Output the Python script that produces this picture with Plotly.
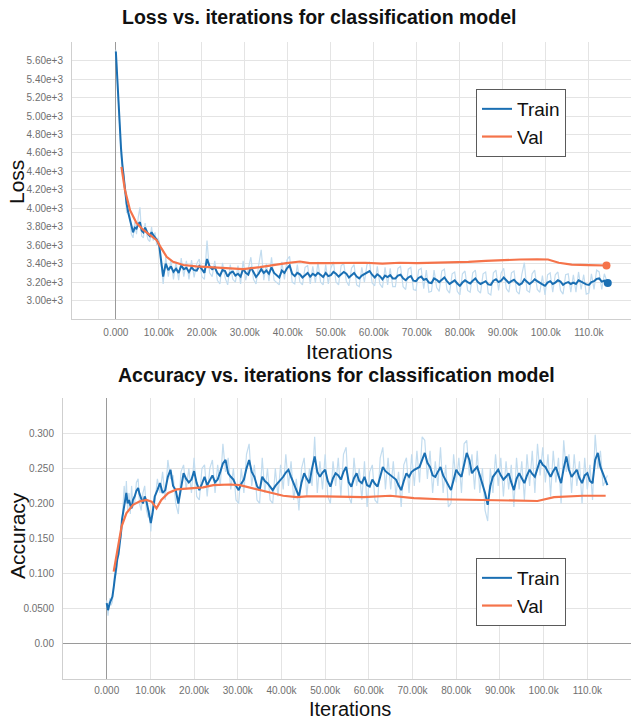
import plotly.graph_objects as go

# ---------------- data ----------------
x_tick_vals = [0, 10000, 20000, 30000, 40000, 50000, 60000, 70000, 80000, 90000, 100000, 110000]
x_tick_text = ["0.000", "10.00k", "20.00k", "30.00k", "40.00k", "50.00k", "60.00k",
               "70.00k", "80.00k", "90.00k", "100.0k", "110.0k"]

loss_tick_vals = [3000, 3200, 3400, 3600, 3800, 4000, 4200, 4400, 4600, 4800, 5000, 5200, 5400, 5600, 5800]
loss_tick_text = ["3.00e+3", "3.20e+3", "3.40e+3", "3.60e+3", "3.80e+3", "4.00e+3", "4.20e+3",
                  "4.40e+3", "4.60e+3", "4.80e+3", "5.00e+3", "5.20e+3", "5.40e+3", "5.60e+3", ""]

acc_tick_vals = [0.0, 0.05, 0.10, 0.15, 0.20, 0.25, 0.30, 0.35]
acc_tick_text = ["0.00", "0.0500", "0.100", "0.150", "0.200", "0.250", "0.300", ""]

loss_iters = [
    0, 300, 500, 700, 900, 1200, 1500, 1700, 1900, 2200,
    2500, 2900, 3300, 3600, 4000, 4400, 4800, 5200, 5600, 6000,
    6400, 6800, 7100, 7500, 7900, 8300, 8700, 9100, 9500, 9800,
    10100, 10400, 10700,
    11000, 11600, 12200, 12800, 13400, 14000, 14600, 15200, 15800, 16400,
    17000, 17600, 18200, 18800, 19400, 20000, 20600, 21200, 21800, 22400,
    23000, 23600, 24200, 24800, 25400, 26000, 26600, 27200, 27800, 28400,
    29000, 29600, 30200, 30800, 31400, 32000, 32600, 33200, 33800, 34400,
    35000, 35600, 36200, 36800, 37400, 38000, 38600, 39200, 39800, 40400,
    41000, 41600, 42200, 42800, 43400, 44000, 44600, 45200, 45800, 46400,
    47000, 47600, 48200, 48800, 49400, 50000, 50600, 51200, 51800, 52400,
    53000, 53600, 54200, 54800, 55400, 56000, 56600, 57200, 57800, 58400,
    59000, 59600, 60200, 60800, 61400, 62000, 62600, 63200, 63800, 64400,
    65000, 65600, 66200, 66800, 67400, 68000, 68600, 69200, 69800, 70400,
    71000, 71600, 72200, 72800, 73400, 74000, 74600, 75200, 75800, 76400,
    77000, 77600, 78200, 78800, 79400, 80000, 80600, 81200, 81800, 82400,
    83000, 83600, 84200, 84800, 85400, 86000, 86600, 87200, 87800, 88400,
    89000, 89600, 90200, 90800, 91400, 92000, 92600, 93200, 93800, 94400,
    95000, 95600, 96200, 96800, 97400, 98000, 98600, 99200, 99800, 100400,
    101000, 101600, 102200, 102800, 103400, 104000, 104600, 105200, 105800, 106400,
    107000, 107600, 108200, 108800, 109400, 110000, 110600, 111200, 111800, 112400,
    113000, 113600, 114400]

train_loss = [
    5700, 5450, 5200, 5000, 4850, 4650, 4480, 4380, 4300, 4150,
    4050, 3950, 3870, 3800, 3740, 3790, 3780, 3830, 3850, 3760,
    3740, 3790, 3760, 3720, 3700, 3740, 3710, 3690, 3660, 3630,
    3590, 3480, 3360,
    3260, 3400, 3330, 3370, 3310, 3345, 3300, 3380, 3340, 3355,
    3310, 3360, 3330, 3325, 3375, 3340, 3300, 3450, 3370, 3340,
    3360, 3300, 3270, 3330, 3320, 3260, 3300, 3315, 3270, 3290,
    3260, 3345, 3300, 3280, 3360, 3310, 3255, 3290, 3340, 3300,
    3325, 3290, 3360, 3300, 3270, 3250, 3325, 3300, 3350, 3380,
    3290, 3265, 3300, 3285, 3250, 3275, 3300, 3260, 3290, 3270,
    3300, 3280, 3255, 3300, 3265, 3275, 3310, 3290, 3260, 3285,
    3310, 3290, 3250, 3275, 3300, 3260, 3240, 3270, 3285, 3300,
    3320, 3280, 3250, 3285, 3265, 3230, 3270, 3255, 3275, 3240,
    3240, 3270, 3280, 3240, 3220, 3250, 3265, 3215, 3210, 3245,
    3260, 3225, 3235, 3195, 3190, 3240, 3225, 3200, 3230, 3250,
    3210, 3180, 3200, 3220, 3185, 3160, 3195, 3220, 3200, 3185,
    3215, 3240, 3200, 3180, 3195, 3210, 3175, 3170, 3215, 3230,
    3200, 3215, 3250, 3220, 3190, 3210, 3225, 3195, 3170, 3185,
    3230, 3205, 3180, 3200, 3230, 3210, 3190, 3175, 3160, 3195,
    3210, 3180, 3195, 3220, 3205, 3170, 3190, 3200, 3180, 3195,
    3180, 3220, 3205, 3190, 3175, 3170, 3200, 3210, 3235, 3240,
    3205, 3215, 3190]

train_loss_raw = [
    5720, 5420, 5150, 5050, 4900, 4600, 4400, 4420, 4350, 4080,
    3950, 4000, 3900, 3720, 3680, 3850, 3720, 3900, 4010, 3700,
    3680, 3840, 3730, 3660, 3640, 3800, 3650, 3740, 3600, 3680,
    3640, 3420, 3330,
    3180, 3470, 3260, 3440, 3230, 3420, 3220, 3460, 3260, 3430,
    3230, 3440, 3250, 3400, 3450, 3260, 3230, 3650, 3300, 3260,
    3430, 3220, 3180, 3410, 3250, 3170, 3390, 3230, 3200, 3380,
    3180, 3430, 3220, 3350, 3470, 3230, 3180, 3380, 3550, 3220,
    3400, 3210, 3470, 3220, 3190, 3170, 3420, 3230, 3440, 3480,
    3200, 3180, 3390, 3200, 3170, 3360, 3380, 3180, 3370, 3190,
    3420, 3200, 3170, 3390, 3180, 3350, 3420, 3200, 3170, 3380,
    3400, 3210, 3160, 3350, 3390, 3170, 3150, 3360, 3200, 3390,
    3420, 3190, 3160, 3370, 3180, 3140, 3360, 3170, 3350, 3150,
    3150, 3350, 3370, 3150, 3120, 3340, 3360, 3120, 3110, 3330,
    3350, 3130, 3330, 3090, 3100, 3330, 3140, 3100, 3320, 3340,
    3120, 3080, 3290, 3310, 3100, 3060, 3290, 3320, 3110, 3090,
    3300, 3330, 3110, 3080, 3290, 3310, 3080, 3060, 3300, 3330,
    3110, 3300, 3350, 3130, 3090, 3300, 3320, 3100, 3070, 3280,
    3410, 3110, 3090, 3290, 3330, 3120, 3090, 3270, 3060, 3280,
    3300, 3090, 3280, 3310, 3110, 3070, 3280, 3290, 3090, 3280,
    3090, 3310, 3120, 3280, 3070, 3080, 3290, 3120, 3330, 3310,
    3120, 3290, 3180]

val_loss_iters = [1300, 2100, 3300, 4800, 6400, 7900, 9500, 10600, 11800, 13300, 15700, 18700, 22600,
                  27300, 29600, 33500, 36600, 39700, 42800, 45100, 49000, 54400, 58000, 62000, 66000,
                  70000, 74000, 78000, 82000, 86000, 90000, 94000, 98000, 100500, 103000, 106000,
                  110000, 114100]
val_loss = [4450, 4200, 3980, 3840, 3765, 3710, 3655, 3565, 3475, 3420, 3385, 3370, 3358,
            3340, 3340, 3362, 3387, 3405, 3423, 3405, 3405, 3405, 3410, 3400, 3410,
            3405, 3410, 3410, 3420, 3430, 3440, 3445, 3448, 3445, 3410, 3390,
            3385, 3380]

acc_iters = [
    0, 300, 700, 1000, 1300, 1600, 1800, 2100, 2400, 2700,
    3000, 3300, 3500, 3800, 4000, 4300, 4500, 4800, 5100, 5400,
    5700, 6000, 6400, 6800, 7200, 7500, 7900, 8300, 8700, 9100,
    9500, 9800, 10100, 10500,
    11000, 11600, 12200, 12800, 13400, 14000, 14600, 15200, 15800, 16400,
    17000, 17600, 18200, 18800, 19400, 20000, 20600, 21200, 21800, 22400,
    23000, 23600, 24200, 24800, 25400, 26000, 26600, 27200, 27800, 28400,
    29000, 29600, 30200, 30800, 31400, 32000, 32600, 33200, 33800, 34400,
    35000, 35600, 36200, 36800, 37400, 38000, 38600, 39200, 39800, 40400,
    41000, 41600, 42200, 42800, 43400, 44000, 44600, 45200, 45800, 46400,
    47000, 47600, 48200, 48800, 49400, 50000, 50600, 51200, 51800, 52400,
    53000, 53600, 54200, 54800, 55400, 56000, 56600, 57200, 57800, 58400,
    59000, 59600, 60200, 60800, 61400, 62000, 62600, 63200, 63800, 64400,
    65000, 65600, 66200, 66800, 67400, 68000, 68600, 69200, 69800, 70400,
    71000, 71600, 72200, 72800, 73400, 74000, 74600, 75200, 75800, 76400,
    77000, 77600, 78200, 78800, 79400, 80000, 80600, 81200, 81800, 82400,
    83000, 83600, 84200, 84800, 85400, 86000, 86600, 87200, 87800, 88400,
    89000, 89600, 90200, 90800, 91400, 92000, 92600, 93200, 93800, 94400,
    95000, 95600, 96200, 96800, 97400, 98000, 98600, 99200, 99800, 100400,
    101000, 101600, 102200, 102800, 103400, 104000, 104600, 105200, 105800, 106400,
    107000, 107600, 108200, 108800, 109400, 110000, 110600, 111200, 111800, 112400,
    113000, 113600, 114600]

train_acc = [
    0.058, 0.048, 0.058, 0.062, 0.067, 0.080, 0.091, 0.105, 0.120, 0.128,
    0.143, 0.160, 0.177, 0.190, 0.200, 0.212, 0.215, 0.200, 0.205, 0.198,
    0.193, 0.205, 0.210, 0.218, 0.222, 0.214, 0.205, 0.200, 0.210, 0.203,
    0.191, 0.180, 0.172, 0.186,
    0.210, 0.219, 0.229, 0.215, 0.219, 0.238, 0.248, 0.225, 0.219, 0.200,
    0.224, 0.243, 0.235, 0.230, 0.234, 0.246, 0.229, 0.219, 0.228, 0.238,
    0.226, 0.232, 0.240, 0.230, 0.234, 0.245, 0.257, 0.262, 0.243, 0.238,
    0.234, 0.225, 0.219, 0.228, 0.234, 0.250, 0.262, 0.245, 0.238, 0.225,
    0.219, 0.238, 0.232, 0.229, 0.224, 0.219, 0.225, 0.229, 0.234, 0.238,
    0.244, 0.248, 0.238, 0.229, 0.218, 0.210, 0.230, 0.243, 0.235, 0.229,
    0.250, 0.267, 0.245, 0.238, 0.244, 0.248, 0.232, 0.224, 0.236, 0.243,
    0.240, 0.234, 0.245, 0.252, 0.230, 0.224, 0.236, 0.243, 0.232, 0.229,
    0.238, 0.226, 0.224, 0.234, 0.228, 0.224, 0.238, 0.252, 0.246, 0.243,
    0.240, 0.236, 0.234, 0.226, 0.219, 0.232, 0.243, 0.238, 0.245, 0.248,
    0.250, 0.252, 0.262, 0.272, 0.258, 0.252, 0.240, 0.238, 0.245, 0.252,
    0.240, 0.234, 0.226, 0.219, 0.235, 0.248, 0.242, 0.238, 0.255, 0.272,
    0.262, 0.243, 0.248, 0.252, 0.240, 0.229, 0.215, 0.198, 0.225, 0.238,
    0.244, 0.248, 0.240, 0.234, 0.238, 0.243, 0.230, 0.219, 0.235, 0.243,
    0.236, 0.229, 0.240, 0.248, 0.242, 0.238, 0.250, 0.262, 0.255, 0.252,
    0.245, 0.238, 0.246, 0.252, 0.240, 0.229, 0.250, 0.267, 0.248, 0.238,
    0.243, 0.248, 0.236, 0.229, 0.240, 0.243, 0.232, 0.229, 0.262, 0.272,
    0.252, 0.243, 0.226]

train_acc_raw = [
    0.062, 0.040, 0.065, 0.055, 0.060, 0.085, 0.100, 0.098, 0.110, 0.140,
    0.155, 0.150, 0.170, 0.205, 0.225, 0.200, 0.232, 0.190, 0.215, 0.185,
    0.225, 0.195, 0.200, 0.230, 0.235, 0.200, 0.190, 0.215, 0.225, 0.190,
    0.180, 0.190, 0.160, 0.200,
    0.200, 0.235, 0.215, 0.245, 0.205, 0.262, 0.235, 0.240, 0.200, 0.185,
    0.245, 0.255, 0.220, 0.250, 0.215, 0.265, 0.210, 0.205, 0.250, 0.255,
    0.210, 0.250, 0.262, 0.215, 0.255, 0.225, 0.285, 0.245, 0.265, 0.220,
    0.250, 0.205, 0.200, 0.250, 0.215, 0.270, 0.285, 0.225, 0.255, 0.205,
    0.200, 0.265, 0.215, 0.250, 0.205, 0.200, 0.250, 0.210, 0.255, 0.220,
    0.270, 0.225, 0.260, 0.205, 0.235, 0.190, 0.250, 0.265, 0.210, 0.250,
    0.225, 0.295, 0.215, 0.260, 0.220, 0.270, 0.210, 0.200, 0.260, 0.225,
    0.265, 0.210, 0.270, 0.280, 0.210, 0.200, 0.265, 0.225, 0.250, 0.205,
    0.260, 0.195, 0.245, 0.255, 0.205, 0.200, 0.265, 0.280, 0.220, 0.265,
    0.220, 0.260, 0.210, 0.245, 0.195, 0.255, 0.265, 0.215, 0.270, 0.225,
    0.275, 0.230, 0.295, 0.290, 0.235, 0.275, 0.215, 0.260, 0.225, 0.280,
    0.215, 0.255, 0.195, 0.200, 0.270, 0.230, 0.265, 0.215, 0.285, 0.290,
    0.240, 0.270, 0.220, 0.275, 0.215, 0.250, 0.190, 0.175, 0.250, 0.215,
    0.270, 0.225, 0.265, 0.210, 0.260, 0.220, 0.255, 0.195, 0.265, 0.220,
    0.260, 0.205, 0.270, 0.225, 0.275, 0.215, 0.285, 0.240, 0.280, 0.230,
    0.270, 0.210, 0.275, 0.230, 0.265, 0.200, 0.290, 0.245, 0.270, 0.215,
    0.270, 0.225, 0.260, 0.200, 0.265, 0.220, 0.255, 0.205, 0.298, 0.250,
    0.275, 0.225, 0.240]

val_acc_iters = [1600, 2600, 3400, 4500, 6000, 7600, 9100, 10300, 11400, 12500, 14100, 16000, 19000, 22100,
                 24400, 28200, 30500, 33600, 37400, 40400, 43500, 45800, 49600, 55700, 58800, 64900, 70300,
                 76400, 83000, 89700, 98600, 102400, 109000, 114200]
val_acc = [0.103, 0.139, 0.167, 0.186, 0.198, 0.203, 0.205, 0.2025, 0.193, 0.205, 0.215, 0.220, 0.221, 0.223,
           0.226, 0.227, 0.226, 0.221, 0.215, 0.211, 0.209, 0.210, 0.210, 0.210, 0.209, 0.211, 0.2075,
           0.206, 0.2055, 0.205, 0.2035, 0.209, 0.211, 0.211]

# ---------------- style ----------------
W, H = 631, 719
BLUE = "#1a6fb3"
LIGHT = "#c2dcef"
ORANGE = "#f5734a"
GRID = "#e4e4e4"
AXL = "#cfcfcf"
ZERO = "#9a9a9a"
FONT = "Liberation Sans, Arial, Helvetica, sans-serif"
TICKFONT = dict(family=FONT, size=10, color="#6f6f6f")

fig = go.Figure()

# top: loss
fig.add_trace(go.Scatter(x=loss_iters, y=train_loss_raw, mode="lines", line=dict(color=LIGHT, width=1.2),
                         showlegend=False, hoverinfo="skip", xaxis="x", yaxis="y"))
fig.add_trace(go.Scatter(x=loss_iters, y=train_loss, mode="lines", line=dict(color=BLUE, width=2),
                         name="Train", legend="legend", xaxis="x", yaxis="y"))
fig.add_trace(go.Scatter(x=val_loss_iters, y=val_loss, mode="lines", line=dict(color=ORANGE, width=2.2),
                         name="Val", legend="legend", xaxis="x", yaxis="y"))
fig.add_trace(go.Scatter(x=[loss_iters[-1]], y=[train_loss[-1]], mode="markers",
                         marker=dict(color=BLUE, size=8), showlegend=False, xaxis="x", yaxis="y"))
fig.add_trace(go.Scatter(x=[val_loss_iters[-1]], y=[val_loss[-1]], mode="markers",
                         marker=dict(color=ORANGE, size=8), showlegend=False, xaxis="x", yaxis="y"))

# bottom: accuracy
fig.add_trace(go.Scatter(x=acc_iters, y=train_acc_raw, mode="lines", line=dict(color=LIGHT, width=1.2),
                         showlegend=False, hoverinfo="skip", xaxis="x2", yaxis="y2"))
fig.add_trace(go.Scatter(x=acc_iters, y=train_acc, mode="lines", line=dict(color=BLUE, width=2),
                         name="Train", legend="legend2", xaxis="x2", yaxis="y2"))
fig.add_trace(go.Scatter(x=val_acc_iters, y=val_acc, mode="lines", line=dict(color=ORANGE, width=2.2),
                         name="Val", legend="legend2", xaxis="x2", yaxis="y2"))

def xax(domain, anchor, rng, standoff):
    return dict(domain=domain, anchor=anchor, range=rng, tickvals=x_tick_vals, ticktext=x_tick_text,
                showgrid=True, gridcolor=GRID, gridwidth=1, zeroline=True, zerolinecolor=ZERO,
                zerolinewidth=1, showline=True, linecolor=AXL, linewidth=1, ticks="",
                tickfont=TICKFONT, ticklabelstandoff=standoff)

def yax(domain, anchor, rng, tv, tt, zl):
    return dict(domain=domain, anchor=anchor, range=rng, tickvals=tv, ticktext=tt,
                showgrid=True, gridcolor=GRID, gridwidth=1, zeroline=zl, zerolinecolor=ZERO,
                zerolinewidth=1, showline=True, linecolor=AXL, linewidth=1, ticks="",
                tickfont=TICKFONT, ticklabelstandoff=6)

fig.update_layout(
    width=W, height=H,
    margin=dict(l=0, r=0, t=0, b=0),
    paper_bgcolor="white", plot_bgcolor="white",
    xaxis=xax([72 / W, 1.0], "y", [-10200, 119800], 4),
    yaxis=yax([1 - 319 / H, 1 - 42 / H], "x", [2800, 5803], loss_tick_vals, loss_tick_text, False),
    xaxis2=xax([63 / W, 1.0], "y2", [-10000, 120000], 2),
    yaxis2=yax([1 - 679 / H, 1 - 398 / H], "x2", [-0.05, 0.3502], acc_tick_vals, acc_tick_text, True),
    legend=dict(x=476 / W, y=1 - 89 / H, xanchor="left", yanchor="top", bgcolor="white",
                bordercolor="#5a5a5a", borderwidth=1, font=dict(family=FONT, size=19, color="#111")),
    legend2=dict(x=476 / W, y=1 - 558 / H, xanchor="left", yanchor="top", bgcolor="white",
                 bordercolor="#5a5a5a", borderwidth=1, font=dict(family=FONT, size=19, color="#111")),
    showlegend=True,
)

ann = [
    dict(text="<b>Loss vs. iterations for classification model</b>", x=319 / W, y=1 - 17 / H,
         font=dict(family=FONT, size=19.5, color="#111")),
    dict(text="<b>Accuracy vs. iterations for classification model</b>", x=336 / W, y=1 - 375 / H,
         font=dict(family=FONT, size=19.5, color="#111")),
    dict(text="Loss", x=17 / W, y=1 - 182 / H, textangle=-90, font=dict(family=FONT, size=21, color="#111")),
    dict(text="Accuracy", x=17 / W, y=1 - 536 / H, textangle=-90, font=dict(family=FONT, size=21, color="#111")),
    dict(text="Iterations", x=349 / W, y=1 - 352 / H, font=dict(family=FONT, size=21, color="#111")),
    dict(text="Iterations", x=350 / W, y=1 - 709 / H, font=dict(family=FONT, size=20, color="#111")),
]
for a in ann:
    a.update(xref="paper", yref="paper", showarrow=False, xanchor="center", yanchor="middle")
fig.update_layout(annotations=ann)

fig.write_html("out.html")
